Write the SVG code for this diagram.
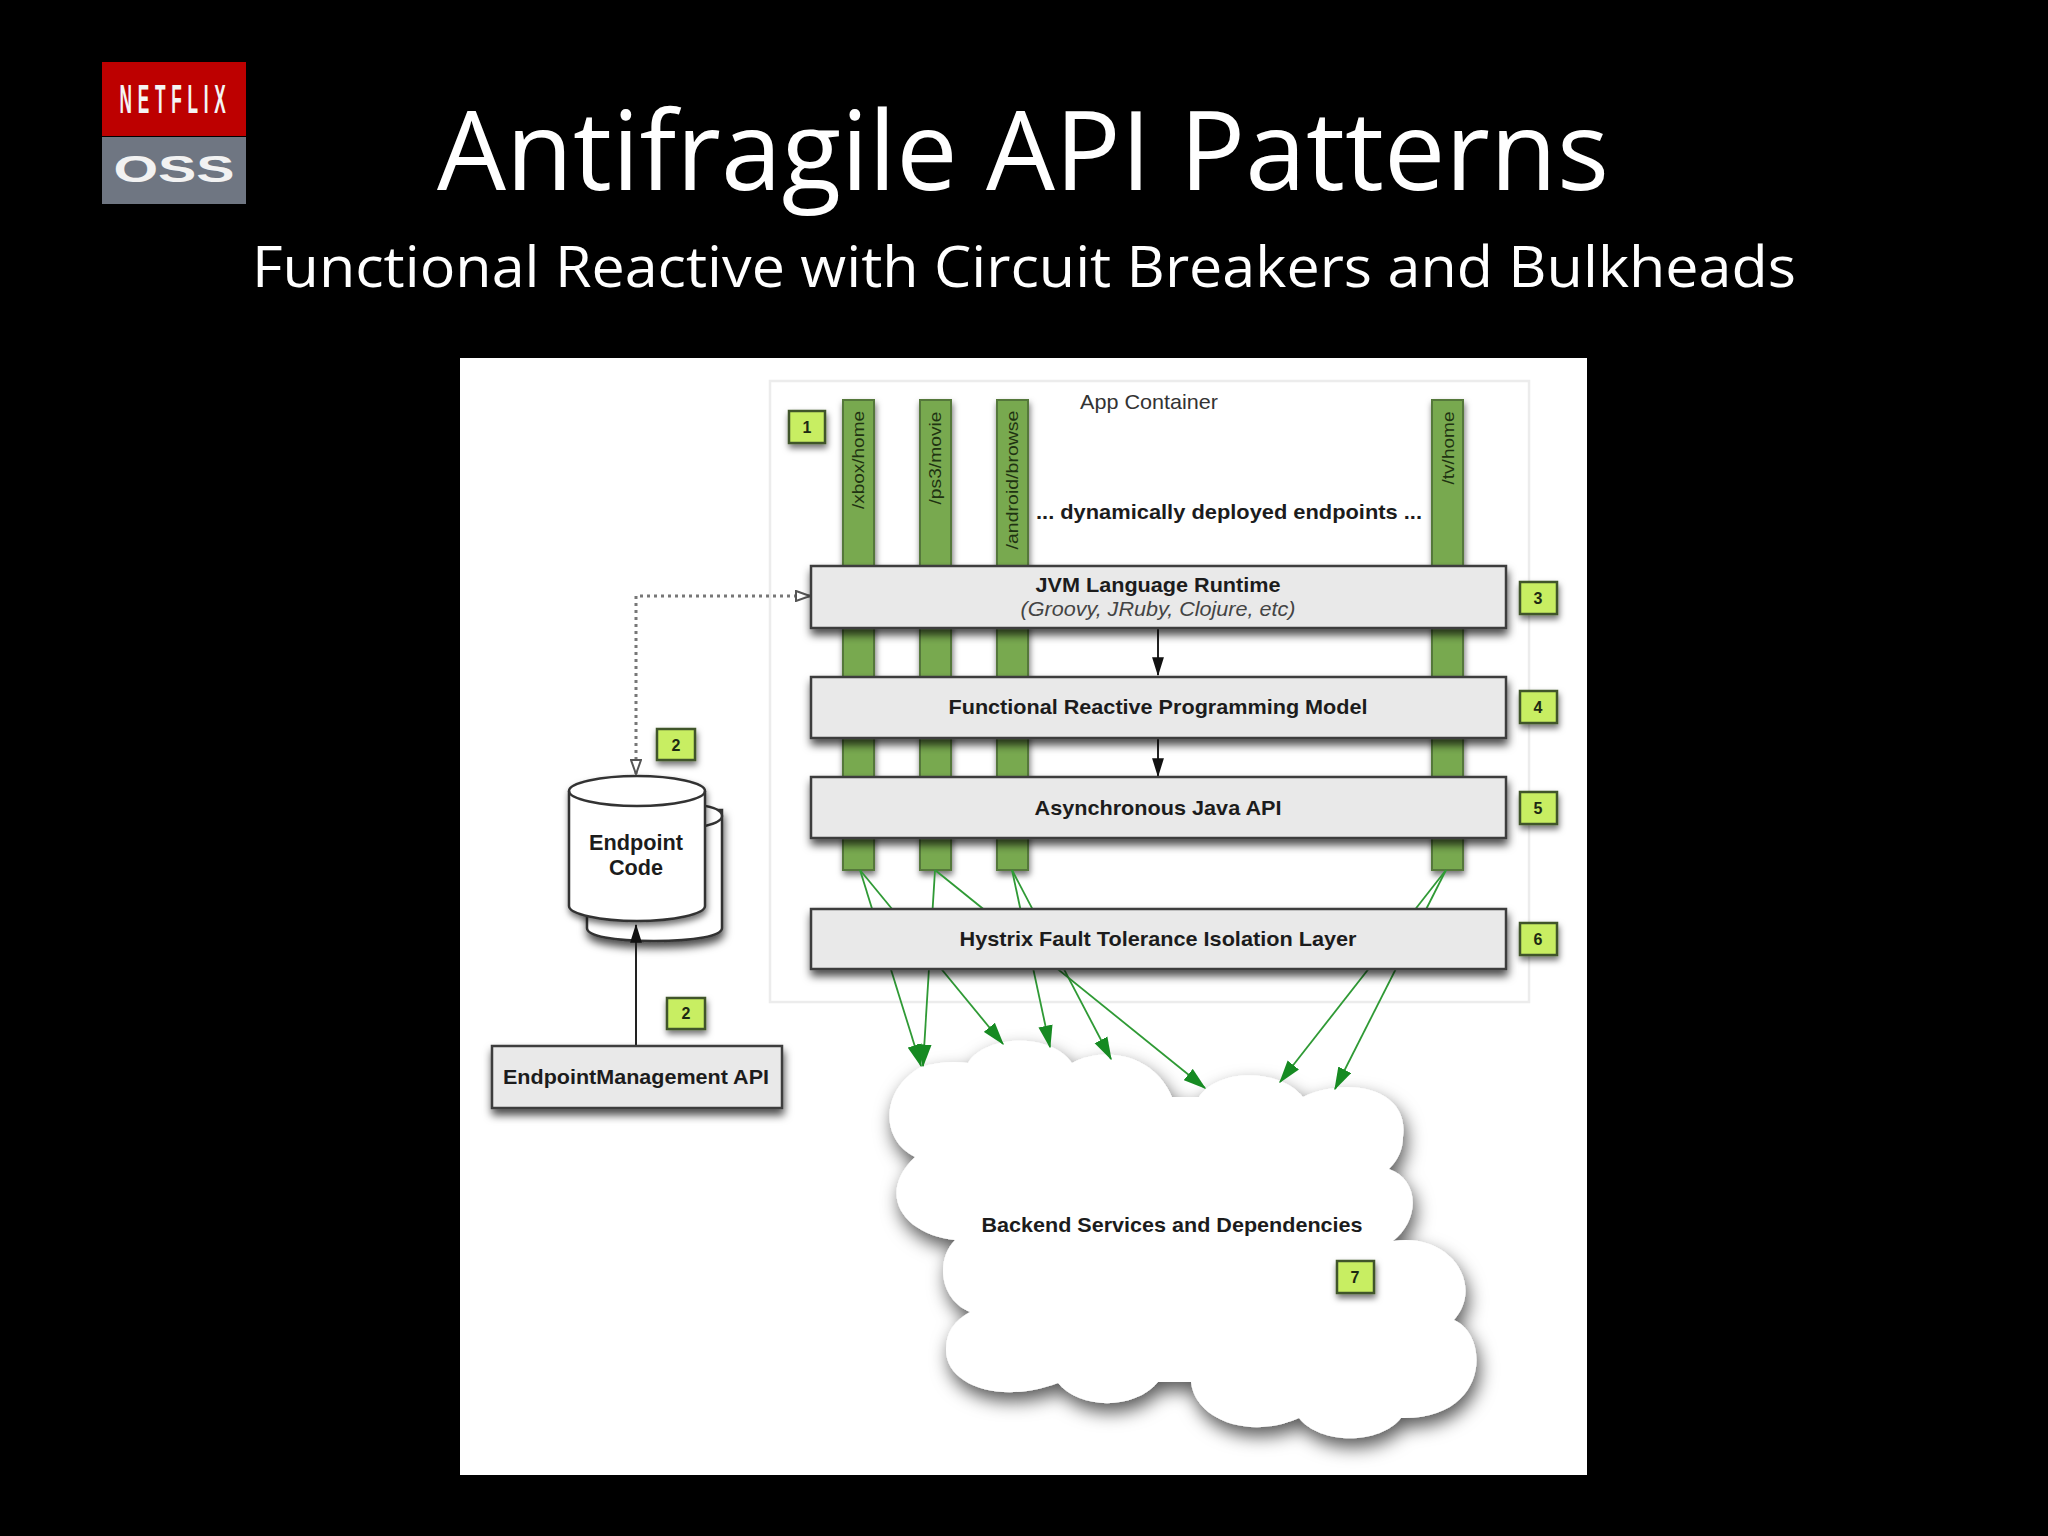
<svg xmlns="http://www.w3.org/2000/svg" width="2048" height="1536" viewBox="0 0 2048 1536">
<style>
.t{font-family:"Liberation Sans",Arial,sans-serif;fill:#1c1c1c;text-anchor:middle}
.b{font-weight:700}
.s{font-size:21px}
.box{fill:#e9e9e9;stroke:#3d3d3d;stroke-width:2.5;filter:url(#sh)}
.bar{fill:#78a94f;stroke:#55783a;stroke-width:2;filter:url(#sh2)}
.bad{fill:#c8ee62;stroke:#41552a;stroke-width:2.5;filter:url(#sh2)}
.num{font-size:16px;font-weight:700;fill:#1d2a12}
.v{font-size:17px;fill:#1f3312}
.g{fill:none;stroke:#2f9a35;stroke-width:1.8;marker-end:url(#ga)}
.k{fill:none;stroke:#222;stroke-width:2;marker-end:url(#ka)}
.d{fill:none;stroke:#777;stroke-width:3;stroke-dasharray:3 4;marker-start:url(#ha);marker-end:url(#ha)}
.cy{fill:#fff;stroke:#333;stroke-width:2.5}
.h{font-family:"Open Sans",Lato,sans-serif;fill:#fff;text-anchor:middle;font-variant-ligatures:none}
</style>
<defs>
<filter id="sh" x="-10%" y="-30%" width="120%" height="170%"><feDropShadow dx="1" dy="6" stdDeviation="4" flood-color="#000" flood-opacity=".7"/></filter>
<filter id="sh2" x="-40%" y="-40%" width="180%" height="190%"><feDropShadow dx="1" dy="4" stdDeviation="3" flood-color="#000" flood-opacity=".55"/></filter>
<filter id="sh3" x="-10%" y="-10%" width="125%" height="125%"><feDropShadow dx="3" dy="9" stdDeviation="9" flood-color="#000" flood-opacity=".65"/></filter>
<marker id="ga" viewBox="0 0 16 10" refX="15" refY="5" markerUnits="userSpaceOnUse" markerWidth="23" markerHeight="15" orient="auto"><path d="M0 0L16 5L0 10Z" fill="#168a22"/></marker>
<marker id="ka" viewBox="0 0 16 10" refX="15" refY="5" markerUnits="userSpaceOnUse" markerWidth="19" markerHeight="12" orient="auto"><path d="M0 0L16 5L0 10Z" fill="#111"/></marker>
<marker id="ha" viewBox="0 0 16 12" refX="15" refY="6" markerUnits="userSpaceOnUse" markerWidth="16" markerHeight="12" orient="auto-start-reverse"><path d="M1 1L15 6L1 11Z" fill="#fff" stroke="#555" stroke-width="2"/></marker>
</defs>
<rect width="2048" height="1536" fill="#000"/>
<g id="logo">
<rect x="102" y="62" width="144" height="74" fill="#bd0000"/>
<rect x="102" y="137" width="144" height="67" fill="#6f7682"/>
<text transform="translate(175.500 113) scale(.42 1)" class="t b" style="fill:#f4f4f4" font-size="41" letter-spacing="13.700">NETFLIX</text>
<text transform="translate(174 182) scale(1.55 1)" class="t b" style="fill:#f2f2f2" font-size="37">OSS</text>
</g>
<text id="title" class="h" x="1023" y="190" font-size="109" textLength="1172" lengthAdjust="spacingAndGlyphs">Antifragile API Patterns</text>
<text id="subtitle" class="h" x="1024" y="287" font-size="57" textLength="1544" lengthAdjust="spacingAndGlyphs">Functional Reactive with Circuit Breakers and Bulkheads</text>
<rect id="panel" x="460" y="358" width="1127" height="1117" fill="#fff"/>
<g id="app-container">
<rect x="770" y="381" width="759" height="621" fill="#fff" stroke="#ececec" stroke-width="2.500"/>
<text class="t s" style="fill:#333" x="1149" y="409" textLength="138" lengthAdjust="spacingAndGlyphs">App Container</text>
<text class="t b s" x="1229" y="519" textLength="386" lengthAdjust="spacingAndGlyphs">... dynamically deployed endpoints ...</text>
</g>
<g id="endpoints">
<g id="ep-xbox"><rect class="bar" x="843" y="400" width="31" height="470"/><text class="t v" transform="translate(864 509) rotate(-90)" x="49" textLength="98" lengthAdjust="spacingAndGlyphs">/xbox/home</text></g>
<g id="ep-ps3"><rect class="bar" x="920" y="400" width="31" height="470"/><text class="t v" transform="translate(941 504) rotate(-90)" x="46" textLength="93" lengthAdjust="spacingAndGlyphs">/ps3/movie</text></g>
<g id="ep-android"><rect class="bar" x="997" y="400" width="31" height="470"/><text class="t v" transform="translate(1018 550) rotate(-90)" x="70" textLength="139" lengthAdjust="spacingAndGlyphs">/android/browse</text></g>
<g id="ep-tv"><rect class="bar" x="1432" y="400" width="31" height="470"/><text class="t v" transform="translate(1454 484) rotate(-90)" x="36" textLength="73" lengthAdjust="spacingAndGlyphs">/tv/home</text></g>
</g>
<g id="cloud">
<path fill="#fff" filter="url(#sh3)" d="M921 1067Q945 1060 968 1063C985 1035 1050 1032 1072 1063C1105 1045 1155 1055 1172 1097L1199 1097C1218 1068 1280 1068 1303 1097C1350 1075 1410 1090 1403 1137Q1403 1155 1389 1169C1420 1180 1420 1220 1393 1241C1450 1232 1485 1285 1454 1320C1490 1335 1490 1420 1401 1418C1380 1445 1320 1445 1299 1418C1250 1440 1195 1420 1191 1382L1158 1382C1135 1410 1080 1410 1058 1383C1000 1405 945 1385 946 1349Q946 1325 970 1312C940 1300 935 1260 955 1240C905 1235 875 1195 915 1157C880 1140 880 1090 921 1067Z"/>
<text class="t b s" x="1172" y="1232" textLength="381" lengthAdjust="spacingAndGlyphs">Backend Services and Dependencies</text>
</g>
<g id="endpoint-code">
<path class="cy" filter="url(#sh)" d="M587 810H722V928C722 936 695 941 654 941S587 936 587 928Z"/>
<path class="cy" d="M700 805Q722 808 722 816Q722 822 705 826"/>
<path class="cy" filter="url(#sh2)" d="M569 791C569 783 600 776 637 776S705 783 705 791V906C705 914 674 921 637 921S569 914 569 906Z"/>
<path class="cy" style="fill:none" d="M569 791C569 799 600 806 637 806S705 799 705 791"/>
<text class="t b" font-size="22" x="636" y="850" textLength="94" lengthAdjust="spacingAndGlyphs">Endpoint</text>
<text class="t b" font-size="22" x="636" y="875" textLength="54" lengthAdjust="spacingAndGlyphs">Code</text>
</g>
<g id="connectors">
<path class="g" d="M860 870L921 1066"/>
<path class="g" d="M860 870L1003 1044"/>
<path class="g" d="M935 870L923 1066"/>
<path class="g" d="M935 870L1205 1088"/>
<path class="g" d="M1012 870L1050 1047"/>
<path class="g" d="M1012 870L1111 1059"/>
<path class="g" d="M1446 870L1280 1082"/>
<path class="g" d="M1446 870L1335 1089"/>
<path class="k" d="M1158 628V675"/>
<path class="k" d="M1158 738V776"/>
<path class="k" d="M636 1046V925"/>
<path class="d" d="M636 774V596H810"/>
</g>
<g id="jvm"><rect class="box" x="811" y="566" width="695" height="62"/>
<text class="t b s" x="1158" y="592" textLength="245" lengthAdjust="spacingAndGlyphs">JVM Language Runtime</text>
<text class="t s" style="fill:#444;font-style:italic" x="1158" y="616" textLength="275" lengthAdjust="spacingAndGlyphs">(Groovy, JRuby, Clojure, etc)</text></g>
<g id="frp"><rect class="box" x="811" y="677" width="695" height="61"/>
<text class="t b s" x="1158" y="714" textLength="419" lengthAdjust="spacingAndGlyphs">Functional Reactive Programming Model</text></g>
<g id="async"><rect class="box" x="811" y="777" width="695" height="61"/>
<text class="t b s" x="1158" y="815" textLength="247" lengthAdjust="spacingAndGlyphs">Asynchronous Java API</text></g>
<g id="hystrix"><rect class="box" x="811" y="909" width="695" height="60"/>
<text class="t b s" x="1158" y="946" textLength="397" lengthAdjust="spacingAndGlyphs">Hystrix Fault Tolerance Isolation Layer</text></g>
<g id="endpoint-management"><rect class="box" x="492" y="1046" width="290" height="62"/>
<text class="t b s" x="636" y="1084" textLength="266" lengthAdjust="spacingAndGlyphs">EndpointManagement API</text></g>
<g id="badges">
<g id="b1"><rect class="bad" x="789" y="411" width="36" height="32"/><text class="t num" x="807" y="433">1</text></g>
<g id="b2a"><rect class="bad" x="657" y="729" width="38" height="31"/><text class="t num" x="676" y="751">2</text></g>
<g id="b2b"><rect class="bad" x="667" y="998" width="38" height="31"/><text class="t num" x="686" y="1019">2</text></g>
<g id="b3"><rect class="bad" x="1520" y="582" width="37" height="32"/><text class="t num" x="1538" y="604">3</text></g>
<g id="b4"><rect class="bad" x="1520" y="691" width="37" height="32"/><text class="t num" x="1538" y="713">4</text></g>
<g id="b5"><rect class="bad" x="1520" y="792" width="37" height="32"/><text class="t num" x="1538" y="814">5</text></g>
<g id="b6"><rect class="bad" x="1520" y="923" width="37" height="32"/><text class="t num" x="1538" y="945">6</text></g>
<g id="b7"><rect class="bad" x="1337" y="1261" width="37" height="32"/><text class="t num" x="1355" y="1283">7</text></g>
</g>
</svg>
